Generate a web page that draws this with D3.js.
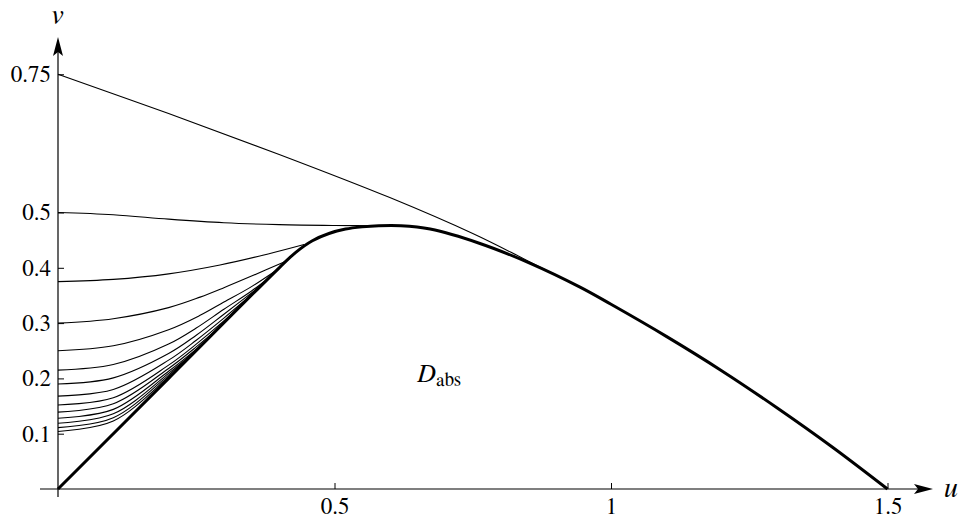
<!DOCTYPE html>
<html>
<head>
<meta charset="utf-8">
<script src="https://cdn.jsdelivr.net/npm/d3@7"></script>
<style>
  body { margin: 0; background: #fff; }
</style>
</head>
<body>
<script>
const WIDTH = 961;
const HEIGHT = 518;
const SERIF = '"FreeSerif", "Nimbus Roman", "Liberation Serif", serif';

// curves, [u, v]
const boundary = [[0, 0], [0.2, 0.2], [0.4, 0.4], [0.43, 0.428], [0.46, 0.449], [0.49, 0.462],
                  [0.52, 0.47], [0.55, 0.474], [0.58, 0.476], [0.62, 0.476], [0.673, 0.470],
                  [0.763, 0.444], [0.854, 0.408], [0.944, 0.365], [1.0, 0.334], [1.1, 0.276],
                  [1.2, 0.214], [1.3, 0.147], [1.4, 0.076], [1.5, 0]];

const c075 = [[0, 0.75], [0.2, 0.679], [0.4, 0.605], [0.6, 0.527], [0.75, 0.462], [0.835, 0.42], [0.88, 0.397]];
const c050 = [[0, 0.5], [0.1, 0.496], [0.2, 0.488], [0.3, 0.4815], [0.4, 0.478], [0.5, 0.4765], [0.59, 0.476]];
const c0375 = [[0, 0.375], [0.1, 0.379], [0.2, 0.389], [0.293, 0.405], [0.38, 0.425], [0.445, 0.442]];
const c030 = [[0, 0.3], [0.1, 0.308], [0.2, 0.328], [0.257, 0.347], [0.3, 0.364], [0.35, 0.385], [0.41, 0.411]];
const c025 = [[0, 0.25], [0.1, 0.259], [0.2, 0.288], [0.257, 0.314], [0.3, 0.338], [0.35, 0.366], [0.397, 0.397]];
const c0215 = [[0, 0.215], [0.1, 0.225], [0.2, 0.262], [0.25, 0.291], [0.3, 0.325], [0.35, 0.358], [0.383, 0.383]];
const c019 = [[0, 0.19], [0.1, 0.201], [0.2, 0.245], [0.25, 0.278], [0.3, 0.316], [0.37, 0.37]];
const c0168 = [[0, 0.168], [0.1, 0.18], [0.2, 0.233], [0.25, 0.269], [0.3, 0.309], [0.36, 0.36]];
const c0152 = [[0, 0.152], [0.1, 0.165], [0.2, 0.224], [0.25, 0.262], [0.3, 0.304], [0.35, 0.35]];
const c0139 = [[0, 0.139], [0.1, 0.154], [0.2, 0.218], [0.25, 0.257], [0.3, 0.3]];
const c0128 = [[0, 0.128], [0.1, 0.144], [0.2, 0.213], [0.25, 0.253], [0.28, 0.28]];
const c0119 = [[0, 0.119], [0.1, 0.136], [0.2, 0.209], [0.26, 0.26]];
const c0111 = [[0, 0.111], [0.1, 0.129], [0.2, 0.206], [0.25, 0.25]];
const c0104 = [[0, 0.104], [0.1, 0.123], [0.2, 0.203], [0.24, 0.24]];

const thinCurves = [c075, c050, c0375, c030, c025, c0215, c019, c0168, c0152, c0139, c0128, c0119, c0111, c0104];

const uTicks = [0.5, 1, 1.5];
const vTicks = [0.1, 0.2, 0.3, 0.4, 0.5, 0.75];

let svg = d3.select('body').append('svg')
              .attr('width', WIDTH)
              .attr('height', HEIGHT)
              .style('font-family', SERIF);

let x = d3.scaleLinear().domain([0, 1.5]).range([58, 887.5]);
let y = d3.scaleLinear().domain([0, 0.75]).range([489, 74.25]);

// axes, ticks pointing inward
let xAxis = svg.append('g')
    .attr('transform', `translate(0,${y(0)})`)
    .call(d3.axisBottom(x).tickValues(uTicks).tickSize(-6).tickPadding(9).tickFormat(d3.format('')));
let yAxis = svg.append('g')
    .attr('transform', `translate(${x(0)},0)`)
    .call(d3.axisLeft(y).tickValues(vTicks).tickSize(-6).tickPadding(7).tickFormat(d3.format('')));

[xAxis, yAxis].forEach(a => {
    a.attr('font-family', null).attr('font-size', null);
    a.select('.domain').remove();
    a.selectAll('.tick line').attr('stroke', '#000').attr('stroke-width', 1);
    a.selectAll('.tick text')
        .style('font-family', SERIF)
        .style('font-size', '23px')
        .attr('fill', '#000');
});

// axis lines with arrow heads
svg.append('line')
    .attr('x1', 40).attr('y1', y(0)).attr('x2', 925).attr('y2', y(0))
    .attr('stroke', '#000').attr('stroke-width', 1.2);
svg.append('line')
    .attr('x1', x(0)).attr('y1', 497).attr('x2', x(0)).attr('y2', 46)
    .attr('stroke', '#000').attr('stroke-width', 1.2);

svg.append('path')
    .attr('d', `M933,${y(0)} L914,${y(0) - 5} L918,${y(0)} L914,${y(0) + 5} Z`)
    .attr('fill', '#000');
svg.append('path')
    .attr('d', `M${x(0)},37 L${x(0) - 5},56 L${x(0)},52 L${x(0) + 5},56 Z`)
    .attr('fill', '#000');

svg.append('text')
    .attr('x', 951).attr('y', 497)
    .attr('text-anchor', 'middle')
    .style('font-family', SERIF)
    .style('font-size', '28px').style('font-style', 'italic')
    .text('u');
svg.append('text')
    .attr('x', 57).attr('y', 24)
    .attr('text-anchor', 'middle')
    .style('font-family', SERIF)
    .style('font-size', '28px').style('font-style', 'italic')
    .text('v');

let line = d3.line()
    .x(d => x(d[0]))
    .y(d => y(d[1]))
    .curve(d3.curveCatmullRom.alpha(0.5));

svg.selectAll('.thin')
    .data(thinCurves)
    .enter().append('path')
    .attr('class', 'thin')
    .attr('d', line)
    .attr('fill', 'none')
    .attr('stroke', '#000')
    .attr('stroke-width', 1.1);

svg.append('path')
    .datum(boundary)
    .attr('d', line)
    .attr('fill', 'none')
    .attr('stroke', '#000')
    .attr('stroke-width', 3)
    .attr('stroke-linejoin', 'round');

// region label
let lab = svg.append('text')
    .attr('x', 417).attr('y', 382)
    .style('font-family', SERIF)
    .style('font-size', '26px');
lab.append('tspan').style('font-style', 'italic').text('D');
lab.append('tspan').attr('dy', 4).attr('dx', 1).style('font-size', '19px').text('abs');
</script>
</body>
</html>
